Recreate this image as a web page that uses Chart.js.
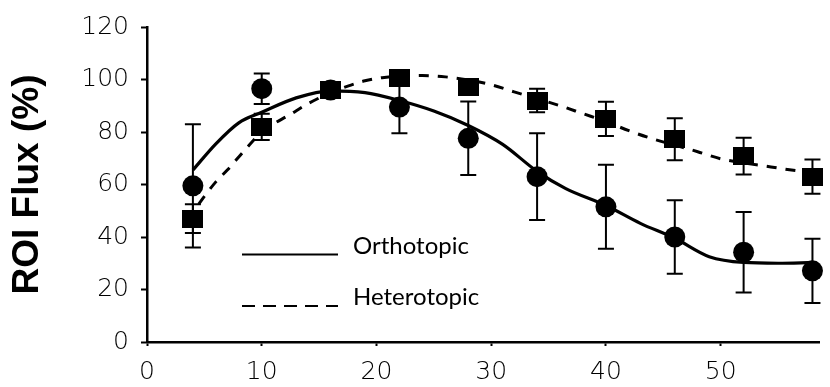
<!DOCTYPE html>
<html><head><meta charset="utf-8">
<script src="https://cdn.jsdelivr.net/npm/chart.js@4.4.1/dist/chart.umd.min.js"></script>
<style>html,body{margin:0;padding:0;background:#fff;overflow:hidden}#wrap{width:830px;height:387px;position:relative}</style>
</head><body><div id="wrap"><canvas id="c" width="830" height="387"></canvas></div>
<script>
// ---- data ----
const days = [4, 10, 16, 22, 28, 34, 40, 46, 52, 58];
const orthoMean = [59.5, 96.5, 96, 89.5, 77.6, 63, 51.5, 40, 34.2, 27.1];
const orthoErr  = [23.5, 5.8, 2, 10, 14, 16.5, 16, 14, 15.3, 12.2];
const heteroMean = [47, 82, 96, 100.5, 97.2, 92, 85, 77.2, 70.8, 63];
const heteroErr  = [5.5, 5, 2, 2, 3, 4.5, 6.5, 8, 7, 6.5];

const orthoFitX = [4, 6, 8, 10, 13, 16, 19, 22, 25, 28, 31, 34, 36.5, 40, 43, 46, 49, 52, 55, 58];
const orthoFitY = [65.5, 75.5, 83.5, 87.5, 93, 95.7, 95, 92, 88, 82.5, 75.3, 65, 58.4, 52, 45.2, 39.5, 32.5, 30.3, 30, 30.3];
const heteroFitX = [4.5, 5, 6, 7, 8.5, 10, 12.6, 14, 16, 17.5, 19, 20.5, 22, 24, 26, 28, 30, 32, 34, 36, 38, 40, 42, 44, 46, 48, 50, 52, 54, 56, 58];
const heteroFitY = [52.5, 55.5, 61, 65.5, 73, 80, 87, 90.7, 95, 97.5, 99.5, 100.7, 101.3, 101.5, 101, 99.8, 98, 95.3, 92.7, 90, 87, 84, 80.5, 77.5, 75, 72.5, 69.8, 68.2, 67, 65.6, 64.5];

const xTickValues = [0, 10, 20, 30, 40, 50];
const yTickValues = [0, 20, 40, 60, 80, 100, 120];
const seriesNames = ['Orthotopic', 'Heterotopic'];
const yTitle = 'ROI Flux (%)';

// square marker image
const sq = document.createElement('canvas');
sq.width = 21; sq.height = 18;
const g = sq.getContext('2d'); g.fillStyle = '#000'; g.fillRect(0, 0, 21, 18);

const pts = (xs, ys) => xs.map((x, i) => ({x, y: ys[i]}));

const tickFont = {family: "'DejaVu Sans'", size: 25, weight: 200};

const errorBars = {
  id: 'errorBars',
  beforeDatasetsDraw(chart) {
    const {ctx, scales: {x, y}} = chart;
    ctx.save();
    ctx.strokeStyle = '#000';
    ctx.lineWidth = 2;
    const draw = (means, errs) => {
      means.forEach((m, i) => {
        const px = x.getPixelForValue(days[i]);
        const t = y.getPixelForValue(m + errs[i]);
        const b = y.getPixelForValue(m - errs[i]);
        ctx.beginPath();
        ctx.moveTo(px, t); ctx.lineTo(px, b);
        ctx.moveTo(px - 8, t); ctx.lineTo(px + 8, t);
        ctx.moveTo(px - 8, b); ctx.lineTo(px + 8, b);
        ctx.stroke();
      });
    };
    draw(orthoMean, orthoErr);
    draw(heteroMean, heteroErr);
    ctx.restore();
  }
};

const legendInside = {
  id: 'legendInside',
  afterDraw(chart) {
    const {ctx} = chart;
    ctx.save();
    ctx.strokeStyle = '#000';
    ctx.fillStyle = '#000';
    ctx.lineWidth = 2;
    ctx.beginPath(); ctx.moveTo(242, 254.5); ctx.lineTo(338, 254.5); ctx.stroke();
    ctx.setLineDash([13, 8]);
    ctx.beginPath(); ctx.moveTo(242, 306); ctx.lineTo(338, 306); ctx.stroke();
    ctx.setLineDash([]);
    ctx.font = "24px Lato";
    ctx.textBaseline = 'alphabetic';
    ctx.fillText(seriesNames[0], 353, 253.5);
    ctx.fillText(seriesNames[1], 353, 305);
    ctx.restore();
  }
};

new Chart(document.getElementById('c'), {
  type: 'scatter',
  data: {
    datasets: [
      {label: seriesNames[0] + ' fit', data: pts(orthoFitX, orthoFitY), showLine: true, borderColor: '#000', borderWidth: 3.2, pointRadius: 0, cubicInterpolationMode: 'monotone', clip: false},
      {label: seriesNames[1] + ' fit', data: pts(heteroFitX, heteroFitY), showLine: true, borderColor: '#000', borderWidth: 3, borderDash: [10, 9], pointRadius: 0, cubicInterpolationMode: 'monotone', clip: false},
      {label: seriesNames[0], data: pts(days, orthoMean), showLine: false, pointStyle: 'circle', pointRadius: 10.5, backgroundColor: '#000', borderColor: '#000', borderWidth: 0, clip: false},
      {label: seriesNames[1], data: pts(days, heteroMean), showLine: false, pointStyle: sq, pointRadius: 10, backgroundColor: '#000', borderColor: '#000', clip: false}
    ]
  },
  options: {
    responsive: false,
    animation: false,
    devicePixelRatio: 1,
    layout: {padding: {top: 23, right: 0, bottom: 0, left: 0}},
    plugins: {legend: {display: false}, tooltip: {enabled: false}},
    scales: {
      x: {
        type: 'linear', min: 0, max: 58.57,
        afterBuildTicks: s => { s.ticks = xTickValues.map(v => ({value: v})); },
        afterFit: s => { s.height = 45; },
        ticks: {font: tickFont, color: '#000', padding: 11, maxRotation: 0},
        grid: {drawOnChartArea: false, drawTicks: true, tickLength: 4, tickWidth: 2, tickColor: '#000'},
        border: {display: true, color: '#000', width: 2.5}
      },
      y: {
        min: 0, max: 120,
        afterBuildTicks: s => { s.ticks = yTickValues.map(v => ({value: v})); },
        afterFit: s => { s.width = 147; },
        ticks: {font: tickFont, color: '#000', padding: 12},
        grid: {drawOnChartArea: false, drawTicks: true, tickLength: 6, tickWidth: 2, tickColor: '#000'},
        border: {display: true, color: '#000', width: 2.5},
        title: {display: true, text: yTitle, color: '#000', font: {family: "'Liberation Sans', Arial, sans-serif", size: 37, weight: 'bold'}, padding: {top: 6, bottom: 0}}
      }
    }
  },
  plugins: [errorBars, legendInside]
});
</script></body></html>
